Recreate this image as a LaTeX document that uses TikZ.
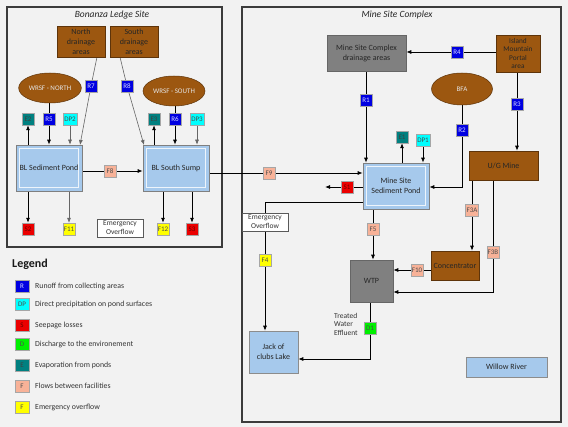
\documentclass[tikz,border=0pt]{standalone}
\usepackage{fontspec}
\setmainfont{Carlito}
\usetikzlibrary{arrows.meta,shapes.geometric}
\pgfdeclarelayer{back}
\pgfdeclarelayer{bg}
\pgfsetlayers{back,bg,main}
\definecolor{pagebg}{RGB}{242,242,242}
\definecolor{brownbox}{RGB}{156,87,16}
\definecolor{graybox}{RGB}{128,128,128}
\definecolor{lblue}{RGB}{166,201,236}
\definecolor{salmon}{RGB}{248,178,152}
\definecolor{tealc}{RGB}{0,128,128}
\definecolor{cyanc}{RGB}{0,255,255}
\definecolor{bluec}{RGB}{0,0,225}
\definecolor{greenc}{RGB}{0,240,0}
\definecolor{yellowc}{RGB}{255,255,0}
\definecolor{redc}{RGB}{235,0,0}
\definecolor{frame}{RGB}{60,60,60}
\tikzset{
  panel/.style={draw=frame,line width=1.1pt,fill=pagebg},
  boxtxt/.style={font=\fontsize{8}{10}\selectfont,align=center,inner sep=1pt},
  brownnode/.style={boxtxt,rectangle,fill=brownbox,draw=brownbox!60!black,line width=0.5pt,text=black!85},
  graynode/.style={boxtxt,rectangle,fill=graybox,draw=black!60,line width=0.5pt,text=black!85},
  bluenode/.style={boxtxt,rectangle,fill=lblue,draw=black!45,line width=0.5pt,text=black!85},
  ovalnode/.style={boxtxt,ellipse,fill=brownbox,draw=brownbox!60!black,line width=0.5pt,text=white!90!black,font=\fontsize{7}{8}\selectfont},
  pond/.style={boxtxt,rectangle,fill=lblue,draw=black!50,line width=0.6pt,text=black!85},
  inner/.style={draw=white!80!lblue,line width=0.9pt},
  lbl/.style={rectangle,minimum width=12pt,minimum height=12pt,inner sep=1pt,draw=gray!70,line width=0.4pt,font=\fontsize{7}{7.5}\selectfont},
  Rl/.style={lbl,fill=bluec,text=white!85!blue},
  DPl/.style={lbl,fill=cyanc,text=black!70},
  Sl/.style={lbl,fill=redc,text=black!60!red},
  Dl/.style={lbl,fill=greenc,text=black!70},
  El/.style={lbl,fill=tealc,text=black!75},
  Fl/.style={lbl,fill=salmon,text=black!70},
  Yl/.style={lbl,fill=yellowc,text=black!70},
  eobox/.style={rectangle,draw=black!65,fill=white,line width=0.5pt,font=\fontsize{7.5}{9}\selectfont,align=center,inner sep=1pt,text=black!80},
  arr/.style={draw=black,line width=0.8pt,-{Latex[length=5pt,width=4pt]}},
  ln/.style={draw=black,line width=0.8pt},
  garr/.style={draw=black!60,line width=0.6pt,-{Latex[length=5pt,width=4pt]}},
  legtxt/.style={anchor=west,font=\fontsize{7.8}{9}\selectfont,text=black!80,inner sep=0pt}
}
\begin{document}
\begin{tikzpicture}[x=1pt,y=-1pt]
\useasboundingbox (0,0) rectangle (568,427);
\begin{pgfonlayer}{back}
  \fill[pagebg] (0,0) rectangle (568,427);
  \draw[panel] (7,7) rectangle (222,247);
  \draw[panel] (242,7) rectangle (561,422);
\end{pgfonlayer}

% ---------- Bonanza Ledge Site ----------
\node[font=\fontsize{9.5}{10}\selectfont\itshape,text=black!85] (t1) at (112,15) {Bonanza Ledge Site};
\node[brownnode,minimum width=48pt,minimum height=31pt] (nda) at (81,41.5) {North\\drainage\\areas};
\node[brownnode,minimum width=48pt,minimum height=31pt] (sda) at (134,41.5) {South\\drainage\\areas};
\node[ovalnode,minimum width=62pt,minimum height=30pt] (wn) at (50,88) {WRSF - NORTH};
\node[ovalnode,minimum width=62pt,minimum height=30pt] (ws) at (174,91) {WRSF - SOUTH};
\node[Rl] (R7) at (91,86) {R7};
\node[Rl] (R8) at (127,86) {R8};
\node[El] (E2) at (28,119) {E2};
\node[Rl] (R5) at (49,119) {R5};
\node[DPl] (DP2) at (70,119) {DP2};
\node[El] (E3) at (154,119) {E3};
\node[Rl] (R6) at (175,119) {R6};
\node[DPl] (DP3) at (197,119) {DP3};
\node[pond,minimum width=66pt,minimum height=46pt] (bsp) at (49,168) {};
\draw[inner] ([shift={(4pt,4pt)}]bsp.south west) rectangle ([shift={(-4pt,-4pt)}]bsp.north east);
\node[boxtxt,text=black!85] (bspt) at (bsp.center) {BL Sediment Pond};
\node[pond,minimum width=66pt,minimum height=46pt] (bss) at (176,168) {};
\draw[inner] ([shift={(4pt,4pt)}]bss.south west) rectangle ([shift={(-4pt,-4pt)}]bss.north east);
\node[boxtxt,text=black!85] (bsst) at (bss.center) {BL South Sump};
\node[Fl] (F8) at (110,171) {F8};
\node[Sl] (S2) at (28,229) {S2};
\node[Yl] (F11) at (69,229) {F11};
\node[eobox,minimum width=46pt,minimum height=18pt] (eo1) at (120,228) {Emergency\\Overflow};
\node[Yl] (F12) at (163,229) {F12};
\node[Sl] (S3) at (192,229) {S3};
\coordinate (n7) at (97,57);
\coordinate (n7e) at (80,145);
\coordinate (s8) at (120,57);
\coordinate (s8e) at (144,145);

% ---------- Mine Site Complex ----------
\node[font=\fontsize{9.5}{10}\selectfont\itshape,text=black!85] (t2) at (397,15) {Mine Site Complex};
\node[graynode,minimum width=79pt,minimum height=36pt] (msd) at (366.5,53) {Mine Site Complex\\drainage areas};
\node[brownnode,minimum width=44pt,minimum height=37pt,font=\fontsize{7.3}{8.5}\selectfont] (imp) at (518,53.5) {Island\\Mountain\\Portal\\area};
\node[Rl] (R4) at (457,52) {R4};
\node[ovalnode,minimum width=61pt,minimum height=32pt] (bfa) at (462,89) {BFA};
\node[Rl] (R1) at (366,100) {R1};
\node[Rl] (R3) at (517,104) {R3};
\node[Rl] (R2) at (462,130) {R2};
\node[El] (E1) at (402,137) {E1};
\node[DPl] (DP1) at (423,140) {DP1};
\node[pond,minimum width=66pt,minimum height=46pt] (msp) at (396,186) {};
\draw[inner] ([shift={(4pt,4pt)}]msp.south west) rectangle ([shift={(-4pt,-4pt)}]msp.north east);
\node[boxtxt,text=black!85] (mspt) at (msp.center) {Mine Site\\Sediment Pond};
\node[Fl] (F9) at (269,173) {F9};
\node[Sl] (S1) at (347,187) {S1};
\coordinate (s1e) at (325,187);
\coordinate (eoc) at (265,202);
\node[eobox,minimum width=46pt,minimum height=18pt] (eo2) at (265,222) {Emergency\\Overflow};
\node[Yl] (F4) at (265,260) {F4};
\node[brownnode,minimum width=69pt,minimum height=29pt] (ug) at (503.5,165.5) {U/G Mine};
\node[Fl] (F3A) at (472,210) {F3A};
\node[Fl] (F3B) at (493,252) {F3B};
\node[brownnode,minimum width=48pt,minimum height=29pt] (con) at (455,265.5) {Concentrator};
\node[Fl] (F10) at (417,270) {F10};
\node[Fl] (F5) at (373,229) {F5};
\node[graynode,minimum width=43pt,minimum height=42pt] (wtp) at (371.5,281) {WTP};
\coordinate (c3b) at (493,292);
\node[Dl] (D1) at (370,328) {D1};
\coordinate (cd) at (370,359);
\node[anchor=north west,align=left,font=\fontsize{7.5}{8.5}\selectfont,text=black!80,inner sep=0pt] (twe) at (334,313) {Treated\\Water\\Effluent};
\node[bluenode,minimum width=49pt,minimum height=42pt] (jcl) at (273.5,352) {Jack of\\clubs Lake};
\node[bluenode,minimum width=81pt,minimum height=20pt] (wr) at (506.5,367) {Willow River};

% ---------- Legend ----------
\node[anchor=west,font=\fontsize{12}{13}\selectfont\bfseries,inner sep=0pt,text=black!90] (leg) at (12,264) {Legend};
\node[Rl,minimum width=14pt] (lR) at (22,286) {R};
\node[legtxt] at (35,286) {Runoff from collecting areas};
\node[DPl,minimum width=14pt] (lDP) at (22,304) {DP};
\node[legtxt] at (35,304) {Direct precipitation on pond surfaces};
\node[Sl,minimum width=14pt] (lS) at (22,325) {S};
\node[legtxt] at (35,325) {Seepage losses};
\node[Dl,minimum width=14pt] (lD) at (22,344) {D};
\node[legtxt] at (35,344) {Discharge to the environement};
\node[El,minimum width=14pt] (lE) at (22,365) {E};
\node[legtxt] at (35,365) {Evaporation from ponds};
\node[Fl,minimum width=14pt] (lF) at (22,386) {F};
\node[legtxt] at (35,386) {Flows between facilities};
\node[Yl,minimum width=14pt] (lY) at (22,407) {F};
\node[legtxt] at (35,407) {Emergency overflow};

% ---------- connectors ----------
\begin{pgfonlayer}{bg}
  % Bonanza
  \draw[arr] (E2 |- bsp.north) -- (E2);
  \draw[ln] (R5 |- wn.south) -- (R5);
  \draw[arr] (R5) -- (R5 |- bsp.north);
  \draw[garr] (DP2) -- (DP2 |- bsp.north);
  \draw[garr] (n7) -- (R7.center) -- (n7e);
  \draw[garr] (s8) -- (R8.center) -- (s8e);
  \draw[arr] (E3 |- bss.north) -- (E3);
  \draw[ln] (R6 |- ws.south) -- (R6);
  \draw[arr] (R6) -- (R6 |- bss.north);
  \draw[garr] (DP3) -- (DP3 |- bss.north);
  \draw[arr] (bsp.east |- F8) -- (bss.west |- F8);
  \draw[arr] (S2 |- bsp.south) -- (S2);
  \draw[garr] (F11 |- bsp.south) -- (F11);
  \draw[arr] (F12 |- bss.south) -- (F12);
  \draw[arr] (S3 |- bss.south) -- (S3);
  % Mine site
  \draw[arr] (bss.east |- F9) -- (msp.west |- F9);
  \draw[arr] (imp.west |- R4) -- (msd.east |- R4);
  \draw[arr] (msd.south -| R1) -- (R1 |- msp.north);
  \draw[arr] (imp.south -| R3) -- (R3 |- ug.north);
  \draw[arr] (bfa.south) -- (R2 |- S1) -- (msp.east |- S1);
  \draw[arr] (E1 |- msp.north) -- (E1);
  \draw[arr] (DP1) -- (DP1 |- msp.north);
  \draw[arr] (msp.west |- S1) -- (s1e);
  \draw[arr] (msp.west |- eoc) -- (eoc) -- (jcl.north -| eoc);
  \draw[arr] (F5 |- msp.south) -- (F5 |- wtp.north);
  \draw[arr] (F3A |- ug.south) -- (F3A |- con.north);
  \draw[arr] (F3B |- ug.south) -- (c3b) -- (wtp.east |- c3b);
  \draw[arr] (con.west |- F10) -- (wtp.east |- F10);
  \draw[arr] (D1 |- wtp.south) -- (cd) -- (jcl.east |- cd);
\end{pgfonlayer}
\end{tikzpicture}
\end{document}
